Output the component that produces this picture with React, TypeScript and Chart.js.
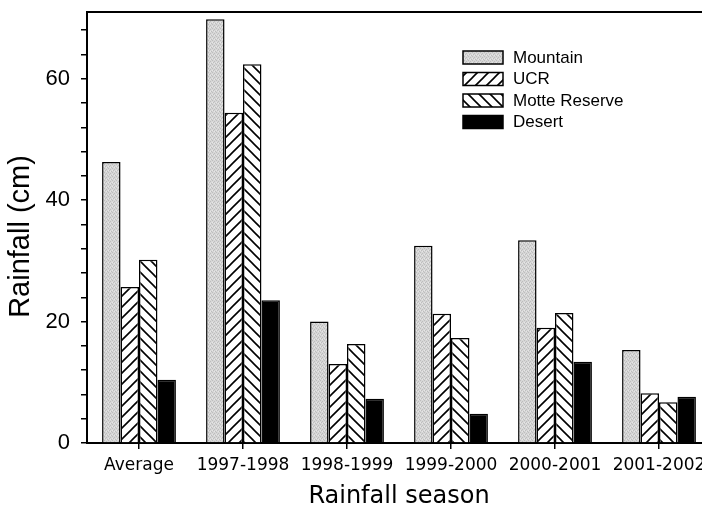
import React, { useEffect, useRef } from "react";
import { Chart, registerables } from "chart.js";

Chart.register(...registerables);

const categories = ["Average", "1997-1998", "1998-1999", "1999-2000", "2000-2001", "2001-2002"];
const seriesNames = ["Mountain", "UCR", "Motte Reserve", "Desert"];
const mountain = [46.3, 69.8, 20.0, 32.5, 33.4, 15.3];
const ucr = [25.7, 54.4, 13.0, 21.3, 19.0, 8.2];
const motte = [30.2, 62.4, 16.3, 17.3, 21.4, 6.7];
const desert = [10.4, 23.5, 7.3, 4.8, 13.4, 7.6];
const yTickLabels = [0, 20, 40, 60];
const yTitle = "Rainfall (cm)";
const xTitle = "Rainfall season";

const FONT = "'Liberation Sans', Arial, Helvetica, sans-serif";
const WIDE = "'DejaVu Sans', 'Liberation Sans', sans-serif";

function makeHatch(dir: "fwd" | "back"): CanvasPattern | string {
  const s = 11;
  const c = document.createElement("canvas");
  c.width = s;
  c.height = s;
  const g = c.getContext("2d");
  if (!g) return "#fff";
  g.fillStyle = "#ffffff";
  g.fillRect(0, 0, s, s);
  g.strokeStyle = "#000";
  g.lineWidth = 1.6;
  g.beginPath();
  if (dir === "fwd") {
    g.moveTo(-2, s + 2); g.lineTo(s + 2, -2);
    g.moveTo(-2, 2); g.lineTo(2, -2);
    g.moveTo(s - 2, s + 2); g.lineTo(s + 2, s - 2);
  } else {
    g.moveTo(-2, -2); g.lineTo(s + 2, s + 2);
    g.moveTo(-2, s - 2); g.lineTo(2, s + 2);
    g.moveTo(s - 2, -2); g.lineTo(s + 2, 2);
  }
  g.stroke();
  return g.createPattern(c, "repeat") || "#fff";
}

function makeStipple(): CanvasPattern | string {
  const s = 4;
  const c = document.createElement("canvas");
  c.width = s;
  c.height = s;
  const g = c.getContext("2d");
  if (!g) return "#d3d3d3";
  g.fillStyle = "#d6d6d6";
  g.fillRect(0, 0, s, s);
  g.fillStyle = "#bdbdbd";
  g.fillRect(0, 0, 1, 1);
  g.fillRect(2, 1, 1, 1);
  g.fillRect(1, 2, 1, 1);
  g.fillRect(3, 3, 1, 1);
  g.fillStyle = "#e6e6e6";
  g.fillRect(2, 3, 1, 1);
  g.fillRect(0, 2, 1, 1);
  return g.createPattern(c, "repeat") || "#d3d3d3";
}

const legendPlugin = {
  id: "insideLegend",
  afterDraw(chart: any) {
    const ctx = chart.ctx;
    const ca = chart.chartArea;
    const x0 = ca.left + 376;
    const y0 = ca.top + 39;
    ctx.save();
    chart.data.datasets.forEach((ds: any, i: number) => {
      const y = y0 + i * 21.5;
      ctx.fillStyle = ds.backgroundColor;
      ctx.fillRect(x0, y, 40, 13);
      ctx.strokeStyle = "#000";
      ctx.lineWidth = 1.5;
      ctx.strokeRect(x0, y, 40, 13);
      ctx.fillStyle = "#000";
      ctx.font = `17px ${FONT}`;
      ctx.textBaseline = "middle";
      ctx.textAlign = "left";
      ctx.fillText(ds.label, x0 + 50, y + 7);
    });
    ctx.restore();
  },
};

const framePlugin = {
  id: "frameTop",
  afterDraw(chart: any) {
    const ctx = chart.ctx;
    const ca = chart.chartArea;
    ctx.save();
    ctx.strokeStyle = "#000";
    ctx.lineWidth = 2;
    ctx.beginPath();
    ctx.moveTo(ca.left - 1, ca.top);
    ctx.lineTo(ca.right, ca.top);
    ctx.stroke();
    // y-axis title
    ctx.fillStyle = "#000";
    ctx.font = `29px ${FONT}`;
    ctx.textAlign = "center";
    ctx.textBaseline = "middle";
    ctx.translate(21, (ca.top + ca.bottom) / 2 + 9);
    ctx.rotate(-Math.PI / 2);
    ctx.fillText(yTitle, 0, 0);
    ctx.restore();
  },
};

export default function App() {
  const ref = useRef<HTMLCanvasElement | null>(null);
  useEffect(() => {
    if (!ref.current) return;
    const fills = [makeStipple(), makeHatch("fwd"), makeHatch("back"), "#000000"];
    const values = [mountain, ucr, motte, desert];
    const chart = new Chart(ref.current, {
      type: "bar",
      data: {
        labels: categories,
        datasets: seriesNames.map((name, i) => ({
          label: name,
          data: values[i],
          backgroundColor: fills[i] as any,
          borderColor: "#000",
          borderWidth: 1.5,
          barPercentage: 1.0,
          categoryPercentage: 0.71,
        })),
      },
      plugins: [legendPlugin, framePlugin],
      options: {
        animation: false,
        responsive: false,
        devicePixelRatio: 1,
        layout: { padding: { top: 12, right: 9, left: 0, bottom: 0 } },
        plugins: {
          legend: { display: false },
          tooltip: { enabled: false },
        },
        scales: {
          x: {
            afterFit: (s: any) => {
              s.height = 62;
              s.paddingLeft = 0;
              s.paddingRight = 0;
            },
            grid: {
              offset: false,
              drawOnChartArea: false,
              drawTicks: true,
              tickLength: 6,
              color: "#000",
              lineWidth: 1.5,
            },
            border: { display: true, color: "#000", width: 2 },
            ticks: {
              color: "#000",
              font: { family: WIDE, size: 17 },
              padding: 6,
              maxRotation: 0,
              autoSkip: false,
            },
            title: {
              display: true,
              text: xTitle,
              color: "#000",
              font: { family: WIDE, size: 24, lineHeight: 1 },
              padding: { top: 0, bottom: -4 },
            },
          },
          y: {
            min: 0,
            max: 71,
            afterFit: (s: any) => {
              s.width = 87;
              s.paddingTop = 0;
              s.paddingBottom = 0;
            },
            grid: {
              drawOnChartArea: false,
              drawTicks: true,
              tickLength: 6,
              color: "#000",
              lineWidth: 1.5,
            },
            border: { display: true, color: "#000", width: 2 },
            ticks: {
              stepSize: 4,
              includeBounds: false,
              autoSkip: false,
              color: "#000",
              font: { family: FONT, size: 22 },
              padding: 11,
              callback: (v: any) => (yTickLabels.includes(Number(v)) ? String(v) : ""),
            },
            title: { display: false },
          },
        },
      },
    });
    return () => chart.destroy();
  }, []);
  return (
    <div style={{ position: "fixed", left: 0, top: 0, width: 702, height: 505, overflow: "hidden", background: "#fff" }}>
      <canvas ref={ref} width={720} height={505} style={{ width: 720, height: 505, display: "block" }} />
    </div>
  );
}
